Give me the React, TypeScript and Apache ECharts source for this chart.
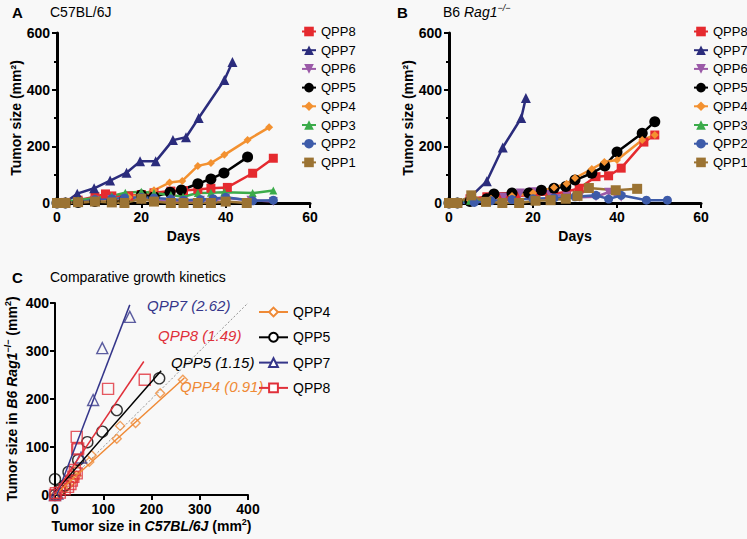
import React, { useEffect, useRef } from 'react';
import * as echarts from 'echarts';

const FONT = 'Liberation Sans, Arial, Helvetica, sans-serif';

// ---------- Panel A/B shared ----------
const lineNames = ['QPP8', 'QPP7', 'QPP6', 'QPP5', 'QPP4', 'QPP3', 'QPP2', 'QPP1'];
const lineColors = ['#e52a2f', '#2b2c7c', '#9b5aa8', '#000000', '#f39130', '#3bab4a', '#3d5ba9', '#9b7333'];
const lineSymbols = ['rect', 'triangle', 'triangle', 'circle', 'diamond', 'triangle', 'circle', 'rect'];
const lineSymbolRotate = [0, 0, 180, 0, 0, 0, 0, 0];
const lineSymbolSizes = [9, 10, 9, 11, 8, 8, 9, 10];
const dayTicks = [0, 20, 40, 60];
const sizeTicks = [0, 200, 400, 600];

// Panel A: C57BL/6J  [day, tumor size mm2]
const a_QPP8 = [[0, 0], [2, 2], [5, 10], [9, 22], [11.5, 32], [13, 25], [17, 25], [20, 30], [23, 36], [27, 42], [30, 44], [33.4, 48], [36.5, 52], [40.4, 55], [46.4, 105], [51.3, 158]];
const a_QPP7 = [[0, 0], [2, 3], [4.8, 33], [8.8, 52], [12.6, 79], [16.5, 107], [19.7, 147], [23.4, 147], [27.5, 222], [30.6, 232], [33.6, 300], [39.7, 434], [41.6, 498]];
const a_QPP6 = [[0, 0], [5, 5], [9, 10], [13, 12], [16, 8], [20, 12], [23, 10], [27, 8], [30, 5], [34, 10], [37, 8], [40, 18], [46, 10], [51.3, 5]];
const a_QPP5 = [[0, 0], [2, 0], [5, 2], [9, 5], [13, 5], [16, 10], [20, 28], [23, 22], [26.8, 38], [29.5, 46], [33.4, 68], [36.5, 85], [39.6, 106], [45.2, 162]];
const a_QPP4 = [[0, 0], [2, 0], [5, 2], [9, 5], [13, 10], [17, 20], [20, 30], [23, 45], [26.7, 72], [29.7, 78], [33.4, 131], [36.5, 141], [39.7, 170], [45.2, 222], [50.3, 267]];
const a_QPP3 = [[0, 0], [2, 5], [5, 10], [9, 18], [13, 25], [16.2, 36], [20, 40], [23, 35], [27, 28], [29.9, 22], [33.4, 35], [36.5, 36], [39.7, 38], [46.4, 35], [51.3, 44]];
const a_QPP2 = [[0, 0], [2, 2], [5, 2], [9, 12], [13, 15], [16, 18], [20, 20], [23, 18], [27, 14], [30, 10], [34, 12], [37, 15], [40, 20], [46.4, 8], [51.3, 10]];
const a_QPP1 = [[0, 0], [2, 0], [5, 3], [9, 5], [13, 2], [16, 0], [20, 15], [23, 5], [27, 0], [30, 0], [33.4, 0], [36.5, 0], [40, 5], [45, 0]];

// Panel B: B6 Rag1-/-
const b_QPP8 = [[0, 0], [2, 0], [5, 15], [9, 22], [13, 22], [16, 25], [20, 28], [24, 30], [28, 40], [31, 52], [35, 93], [38, 96], [41, 123], [46.4, 215], [49, 240]];
const b_QPP7 = [[0, 0], [2, 2], [5, 20], [9, 77], [12.8, 196], [17.2, 300], [18.3, 371]];
const b_QPP6 = [[0, 0], [5, 10], [9, 12], [13, 20], [17, 35], [20, 40], [24, 30], [28, 25], [31, 20], [35, 22], [38, 38], [41, 20]];
const b_QPP5 = [[0, 0], [2, 0], [5, 5], [9, 15], [10.7, 32], [15, 35], [19, 35], [22, 45], [25, 52], [27.8, 58], [30, 81], [34, 105], [37.1, 131], [40, 180], [46, 246], [49, 287]];
const b_QPP4 = [[0, 0], [2, 0], [5, 10], [10, 15], [15, 25], [20, 35], [25, 55], [28, 68], [30, 88], [34, 120], [37, 145], [40, 152], [46, 222], [49, 240]];
const b_QPP3 = [[0, 0], [2, 0], [5, 8], [9, 5]];
const b_QPP2 = [[0, 0], [2, 0], [6, 2], [10, 8], [15, 12], [20, 15], [25, 18], [30, 22], [35, 27], [38, 14], [41, 27], [47, 10], [52, 10]];
const b_QPP1 = [[0, 0], [2, 0], [5.3, 27], [8.8, 4], [12.7, 0], [16.7, 0], [20.6, 8], [24.2, 10], [27.8, 15], [30.6, 25], [33.3, 53], [39.7, 45], [44.8, 50]];

const panelA = [a_QPP8, a_QPP7, a_QPP6, a_QPP5, a_QPP4, a_QPP3, a_QPP2, a_QPP1];
const panelB = [b_QPP8, b_QPP7, b_QPP6, b_QPP5, b_QPP4, b_QPP3, b_QPP2, b_QPP1];

// ---------- Panel C ----------
const compNames = ['QPP4', 'QPP5', 'QPP7', 'QPP8'];
const compColors = ['#ef8a36', '#000000', '#35368a', '#e0303a'];
const compSymbols = ['emptyDiamond', 'emptyCircle', 'emptyTriangle', 'emptyRect'];
const compPointSymbols = ['diamond', 'circle', 'triangle', 'rect'];
const compSymbolSizes = [9, 11, 11, 11];
const compTicks = [0, 100, 200, 300, 400];
const c_QPP4 = [[0, 0], [10, 5], [20, 12], [28, 20], [35, 28], [40, 33], [45, 40], [45, 53], [71, 69], [76, 83], [128, 117], [135, 144], [167, 150], [218, 212], [265, 240]];
const c_QPP5 = [[0, 0], [0, 33], [10, 10], [20, 20], [28, 48], [48, 73], [67, 110], [98, 132], [128, 177], [216, 243]];
const c_QPP7 = [[0, 0], [5, 3], [54, 78], [79, 198], [98, 306], [155, 371]];
const c_QPP8 = [[0, 0], [2, 4], [10, 5], [20, 12], [27, 17], [32, 23], [35, 30], [38, 38], [41, 52], [45, 45], [46, 95], [48, 97], [45, 121], [110, 221], [186, 240]];
const compPoints = [c_QPP4, c_QPP5, c_QPP7, c_QPP8];
const fitSlopes = [0.91, 1.15, 2.62, 1.49];
const fitIntercepts = [0, 6, -10, 4];
const fitXStart = [0, 0, 4, 0];
const fitXEnd = [268, 220, 155, 184];
const fitLabels = ['QPP4 (0.91)', 'QPP5 (1.15)', 'QPP7 (2.62)', 'QPP8 (1.49)'];
const identityLine = [[0, 0], [400, 400]];

function axisCommon(extra: any) {
  return {
    type: 'value',
    splitLine: { show: false },
    axisLine: { show: true, lineStyle: { color: '#000', width: 3 } },
    axisTick: { show: true, length: 5, lineStyle: { color: '#000', width: 2 } },
    axisLabel: { color: '#000', fontSize: 14, fontWeight: 'bold', fontFamily: FONT, margin: 7 },
    nameLocation: 'middle',
    nameTextStyle: { color: '#000', fontSize: 14, fontWeight: 'bold', fontFamily: FONT },
    ...extra,
  };
}

const richAxisName = {
  b: { fontSize: 14, fontWeight: 'bold', fontFamily: FONT, color: '#000', lineHeight: 18 },
  bi: { fontSize: 14, fontWeight: 'bold', fontStyle: 'italic', fontFamily: FONT, color: '#000', lineHeight: 18 },
  s: { fontSize: 9, fontWeight: 'bold', fontFamily: FONT, color: '#000', verticalAlign: 'top', lineHeight: 18 },
};

export default function App() {
  const ref = useRef<HTMLDivElement>(null);
  useEffect(() => {
    if (!ref.current) return;
    const chart = echarts.init(ref.current, null, { renderer: 'svg' });

    const series: any[] = [];
    [panelA, panelB].forEach((panel, pi) => {
      panel.forEach((data, i) => {
        series.push({
          type: 'line',
          name: lineNames[i],
          xAxisIndex: pi,
          yAxisIndex: pi,
          data,
          symbol: lineSymbols[i],
          symbolRotate: lineSymbolRotate[i],
          symbolSize: lineSymbolSizes[i],
          showAllSymbol: true,
          color: lineColors[i],
          lineStyle: { width: 2.5, color: lineColors[i] },
          itemStyle: { color: lineColors[i] },
          emphasis: { disabled: true },
        });
      });
    });

    series.push({
      type: 'line',
      name: 'identity',
      xAxisIndex: 2,
      yAxisIndex: 2,
      data: identityLine,
      showSymbol: false,
      lineStyle: { color: '#777', width: 0.8, type: [2, 2] },
      emphasis: { disabled: true },
      z: 1,
    });
    compNames.forEach((n, i) => {
      const x0 = fitXStart[i];
      const x1 = fitXEnd[i];
      series.push({
        type: 'line',
        name: 'C-' + n,
        xAxisIndex: 2,
        yAxisIndex: 2,
        data: [[x0, fitSlopes[i] * x0 + fitIntercepts[i]], [x1, fitSlopes[i] * x1 + fitIntercepts[i]]],
        showSymbol: false,
        symbol: compSymbols[i],
        color: compColors[i],
        itemStyle: { color: compColors[i] },
        lineStyle: { color: compColors[i], width: 1.5 },
        emphasis: { disabled: true },
      });
      series.push({
        type: 'scatter',
        name: 'C-' + n + '-pts',
        xAxisIndex: 2,
        yAxisIndex: 2,
        data: compPoints[i],
        symbol: compPointSymbols[i],
        symbolSize: compSymbolSizes[i],
        itemStyle: { color: 'rgba(0,0,0,0)', borderColor: compColors[i], borderWidth: 1.4 },
        emphasis: { disabled: true },
      });
    });

    const legendText = { color: '#000', fontSize: 13, fontFamily: FONT };

    chart.setOption({
      animation: false,
      backgroundColor: '#f8f8f8',
      textStyle: { fontFamily: FONT },
      grid: [
        { left: 57, top: 33, width: 253, height: 170 },
        { left: 449, top: 33, width: 252, height: 170 },
        { left: 55, top: 303, width: 193, height: 192 },
      ],
      xAxis: [
        axisCommon({ gridIndex: 0, min: dayTicks[0], max: dayTicks[dayTicks.length - 1], interval: 20, name: 'Days', nameGap: 26 }),
        axisCommon({ gridIndex: 1, min: dayTicks[0], max: dayTicks[dayTicks.length - 1], interval: 20, name: 'Days', nameGap: 26 }),
        axisCommon({
          gridIndex: 2, min: compTicks[0], max: compTicks[compTicks.length - 1], interval: 100,
          axisLine: { show: true, lineStyle: { color: '#000', width: 2 } },
          name: '{b|Tumor size in }{bi|C57BL/6J}{b| (mm}{s|2}{b|)}', nameGap: 22,
          nameTextStyle: { rich: richAxisName },
        }),
      ],
      yAxis: [
        axisCommon({ gridIndex: 0, min: sizeTicks[0], max: sizeTicks[sizeTicks.length - 1], interval: 200, name: 'Tumor size (mm²)', nameGap: 34, minorTick: { show: true, splitNumber: 2, length: 3, lineStyle: { color: '#000', width: 2 } } }),
        axisCommon({ gridIndex: 1, min: sizeTicks[0], max: sizeTicks[sizeTicks.length - 1], interval: 200, name: 'Tumor size (mm²)', nameGap: 34, minorTick: { show: true, splitNumber: 2, length: 3, lineStyle: { color: '#000', width: 2 } } }),
        axisCommon({
          gridIndex: 2, min: compTicks[0], max: compTicks[compTicks.length - 1], interval: 100,
          axisLine: { show: true, lineStyle: { color: '#000', width: 2 } },
          axisLabel: { color: '#000', fontSize: 14, fontWeight: 'bold', fontFamily: FONT, margin: 6 },
          name: '{b|Tumor size in }{bi|B6 Rag1}{s|−/−}{b| (mm}{s|2}{b|)}', nameGap: 34,
          nameTextStyle: { rich: richAxisName },
        }),
      ],
      legend: [
        { data: lineNames, orient: 'vertical', left: 296, top: 20, itemWidth: 14, itemHeight: 12, itemGap: 5.7, textStyle: legendText, selectedMode: false },
        { data: lineNames, orient: 'vertical', left: 688, top: 20, itemWidth: 14, itemHeight: 12, itemGap: 5.7, textStyle: legendText, selectedMode: false },
        {
          data: compNames.map((n) => 'C-' + n), orient: 'vertical', left: 253, top: 300, itemWidth: 29, itemHeight: 11, itemGap: 11.3,
          textStyle: { ...legendText, fontSize: 14 }, selectedMode: false, formatter: (n: string) => n.replace('C-', ''),
        },
      ],
      graphic: [
        { type: 'text', x: 12, y: 12, style: { text: 'A', font: `bold 15px ${FONT}`, fill: '#000', verticalAlign: 'middle' } },
        { type: 'text', x: 50, y: 12, style: { text: 'C57BL/6J', font: `14px ${FONT}`, fill: '#000', verticalAlign: 'middle' } },
        { type: 'text', x: 397, y: 12, style: { text: 'B', font: `bold 15px ${FONT}`, fill: '#000', verticalAlign: 'middle' } },
        {
          type: 'text', x: 443, y: 12,
          style: {
            text: '{n|B6 }{i|Rag1}{s|−/−}', verticalAlign: 'middle', fill: '#000',
            rich: {
              n: { fontSize: 14, fontFamily: FONT, color: '#000', lineHeight: 18 },
              i: { fontSize: 14, fontStyle: 'italic', fontFamily: FONT, color: '#000', lineHeight: 18 },
              s: { fontSize: 9, fontStyle: 'italic', fontFamily: FONT, color: '#000', verticalAlign: 'top', lineHeight: 18 },
            },
          },
        },
        { type: 'text', x: 12, y: 277, style: { text: 'C', font: `bold 15px ${FONT}`, fill: '#000', verticalAlign: 'middle' } },
        { type: 'text', x: 50, y: 277, style: { text: 'Comparative growth kinetics', font: `14px ${FONT}`, fill: '#000', verticalAlign: 'middle' } },
        { type: 'text', x: 147, y: 305, style: { text: fitLabels[2], font: `italic 15px ${FONT}`, fill: compColors[2], verticalAlign: 'middle' } },
        { type: 'text', x: 158, y: 335, style: { text: fitLabels[3], font: `italic 15px ${FONT}`, fill: compColors[3], verticalAlign: 'middle' } },
        { type: 'text', x: 171, y: 362, style: { text: fitLabels[1], font: `italic 15px ${FONT}`, fill: compColors[1], verticalAlign: 'middle' } },
        { type: 'text', x: 180, y: 386, style: { text: fitLabels[0], font: `italic 15px ${FONT}`, fill: compColors[0], verticalAlign: 'middle' } },
      ],
      series,
    });
    return () => chart.dispose();
  }, []);
  return <div ref={ref} style={{ position: 'fixed', left: 0, top: 0, width: 747, height: 539 }} />;
}
